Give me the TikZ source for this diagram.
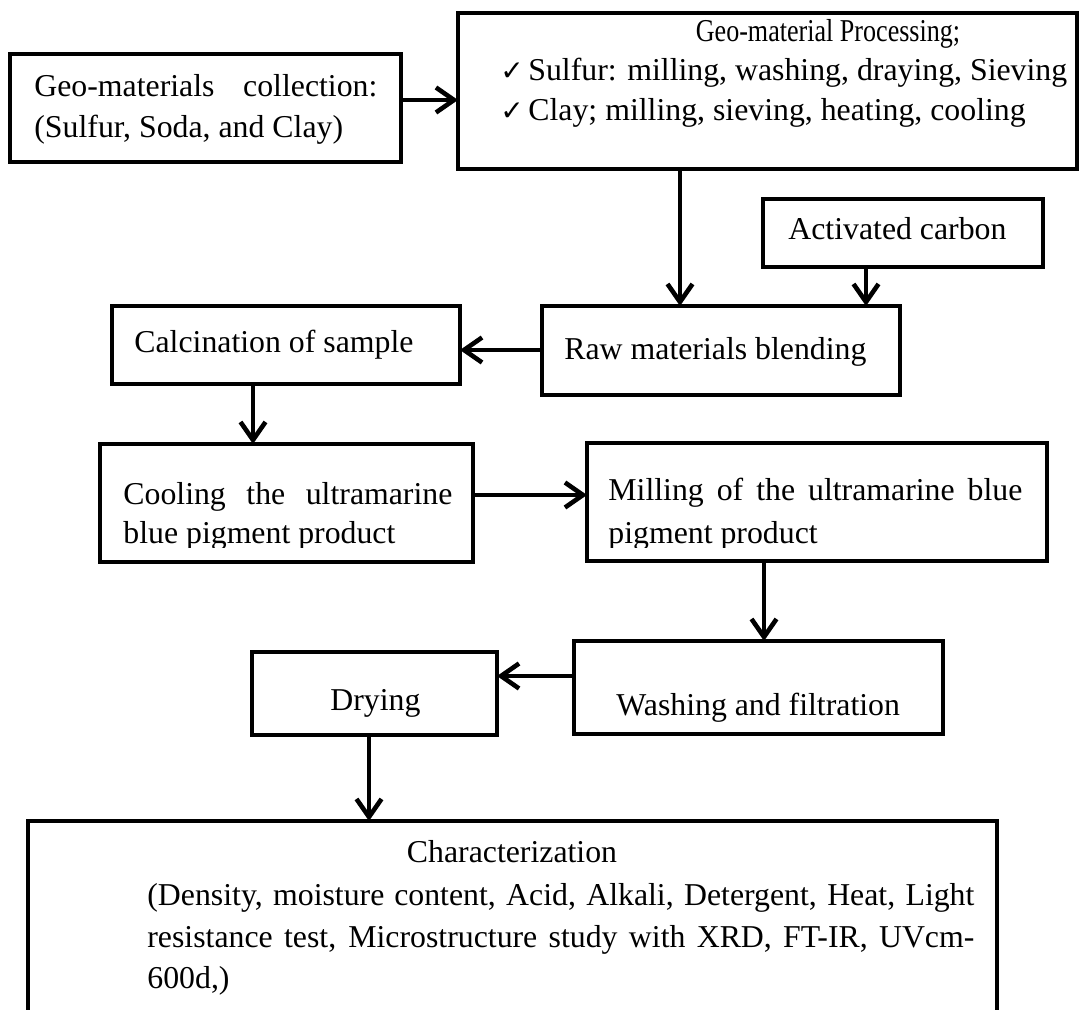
\documentclass[tikz,border=0pt]{standalone}
\usepackage{graphicx}
\usepackage{fontspec}
\setmainfont{Liberation Serif}
\newfontfamily\symf{DejaVu Sans}
\usetikzlibrary{arrows.meta,fit}
\begin{document}
\begin{tikzpicture}[x=0.5pt,y=-0.5pt,
  box/.style={draw, line width=2.4pt, inner sep=0pt, outer sep=0pt},
  txt/.style={anchor=base west, inner sep=0pt, font=\fontsize{15.9}{21}\selectfont},
  ctxt/.style={anchor=base, inner sep=0pt, font=\fontsize{15.9}{21}\selectfont},
  chk/.style={anchor=base west, inner sep=0pt, font=\symf\fontsize{14}{16}\selectfont},
  arr/.style={line width=2.3pt, -{Straight Barb[length=9pt,width=12.5pt]}}]
\fill[white] (0,0) rectangle (1081,1010);
\useasboundingbox (0,0) rectangle (1081,1010);
\clip (0,0) rectangle (1081,1010);

% boxes
\node[box, fit={(10,54) (401,162)}] (b1) {};
\node[box, fit={(458,13) (1077,169)}] (b2) {};
\node[box, fit={(763,199) (1043,267)}] (ac) {};
\node[box, fit={(542,306) (900,395)}] (raw) {};
\node[box, fit={(112,306) (460,384)}] (calc) {};
\node[box, fit={(100,444) (473,562)}] (cool) {};
\node[box, fit={(587,443) (1047,561)}] (mill) {};
\node[box, fit={(574,641) (943,734)}] (wash) {};
\node[box, fit={(252,652) (497,735)}] (dry) {};
\node[box, fit={(28,821) (997,1040)}] (char) {};

% texts
\node[txt] (t1a) at (34,97) {\makebox[171.5pt][s]{Geo-materials collection:}};
\node[txt] (t1b) at (34,138) {(Sulfur, Soda, and Clay)};

\node[ctxt] (t2a) at (828,42) {\scalebox{0.82}[1]{Geo-material Processing;}};
\node[chk] (k1) at (500,81) {✓};
\node[txt] (t2b) at (528,81) {Sulfur: milling, washing, draying, Sieving};
\node[chk] (k2) at (500,121) {✓};
\node[txt] (t2c) at (528,121) {Clay; milling, sieving, heating, cooling};

\node[txt] (t3) at (788,240) {Activated carbon};
\node[txt] (t4) at (564,360) {Raw materials blending};
\node[txt] (t5) at (134,353) {Calcination of sample};

\node[txt] (t6a) at (123,504) {\makebox[164.5pt][s]{Cooling the ultramarine}};
\node[txt] (t7a) at (608,500) {\makebox[207pt][s]{Milling of the ultramarine blue}};
\begin{scope}
  \clip (0,0) rectangle (1081,547);
  \node[txt] (t6b) at (123,543) {blue pigment product};
  \node[txt] (t7b) at (608,543) {pigment product};
\end{scope}

\node[txt] (t8) at (616,715) {Washing and filtration};
\node[txt] (t9) at (330,710) {Drying};

\node[ctxt] (t10a) at (512,862) {Characterization};
\node[txt] (t10b) at (147,905) {\makebox[413.5pt][s]{(Density, moisture content, Acid, Alkali, Detergent, Heat, Light}};
\node[txt] (t10c) at (147,947) {\makebox[413.5pt][s]{resistance test, Microstructure study with XRD, FT-IR, UVcm-}};
\node[txt] (t10d) at (147,988) {600d,)};

% connector guides
\coordinate (g1) at (0,100);
\coordinate (g2) at (680,0);
\coordinate (g3) at (866,0);
\coordinate (g4) at (0,350);
\coordinate (g5) at (253,0);
\coordinate (g6) at (0,495);
\coordinate (g7) at (764,0);
\coordinate (g8) at (0,676);
\coordinate (g9) at (369,0);

% connectors
\draw[arr] (b1.east |- g1) -- (b2.west |- g1);
\draw[arr] (b2.south -| g2) -- (raw.north -| g2);
\draw[arr] (ac.south -| g3) -- (raw.north -| g3);
\draw[arr] (raw.west |- g4) -- (calc.east |- g4);
\draw[arr] (calc.south -| g5) -- (cool.north -| g5);
\draw[arr] (cool.east |- g6) -- (mill.west |- g6);
\draw[arr] (mill.south -| g7) -- (wash.north -| g7);
\draw[arr] (wash.west |- g8) -- (dry.east |- g8);
\draw[arr] (dry.south -| g9) -- (char.north -| g9);
\end{tikzpicture}
\end{document}
